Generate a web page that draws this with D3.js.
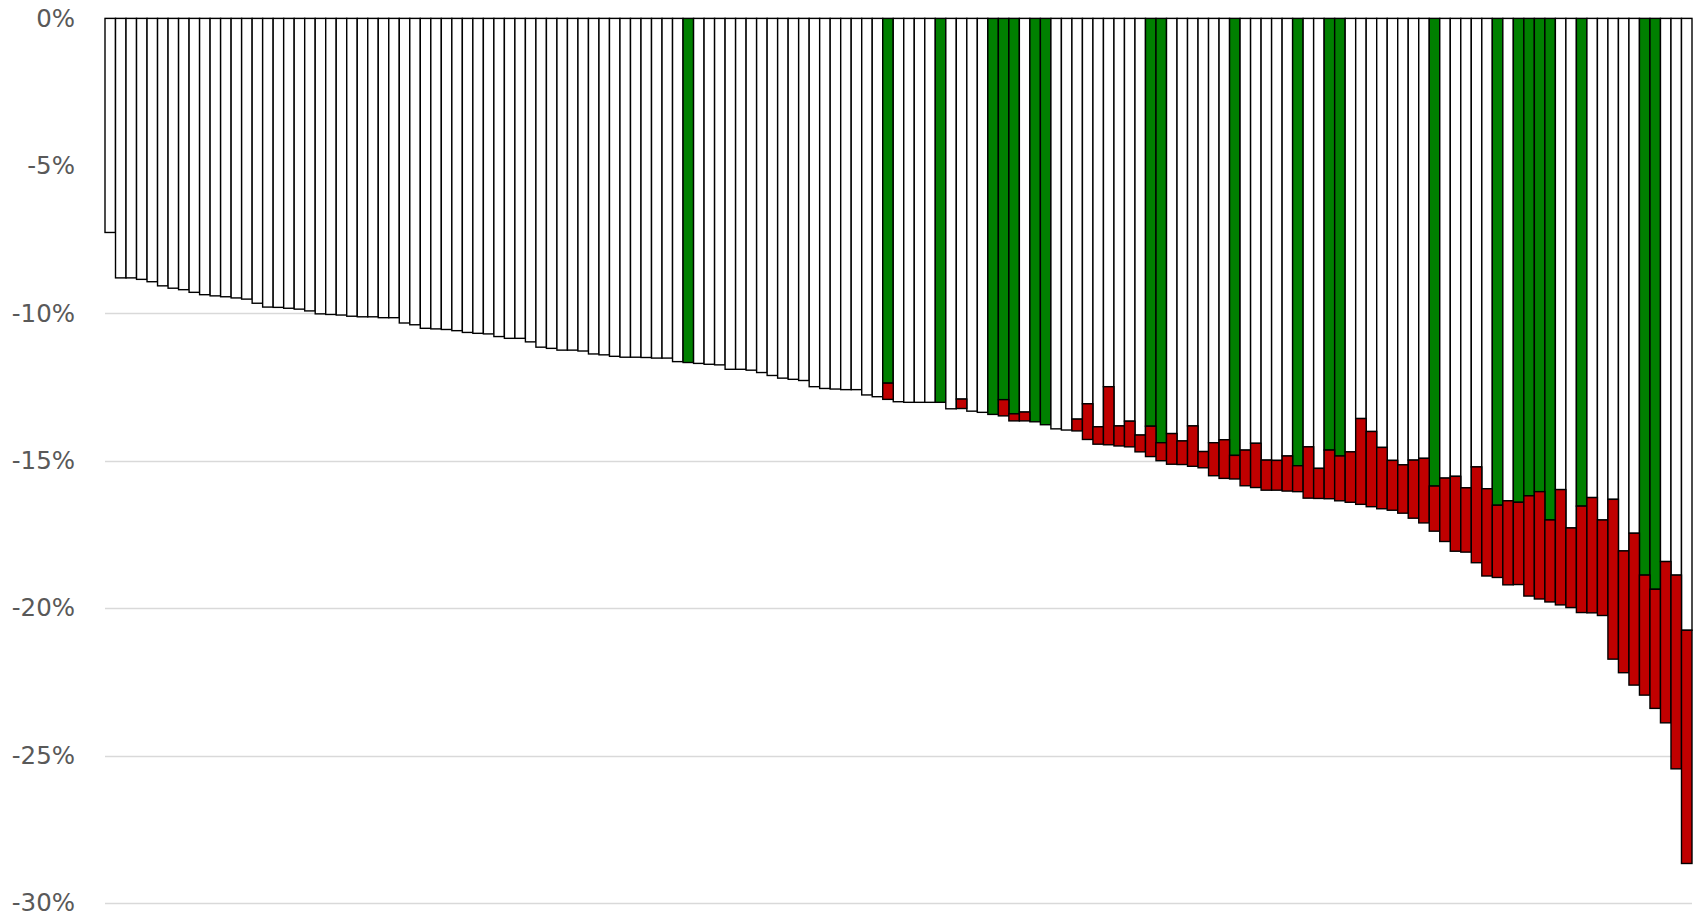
<!DOCTYPE html>
<html>
<head>
<meta charset="utf-8">
<script src="https://cdn.jsdelivr.net/npm/d3@7"></script>
<style>
  html, body { margin: 0; padding: 0; background: #ffffff; }
  svg { display: block; }
</style>
</head>
<body>
<svg id="chart" width="1696" height="917"></svg>
<script>
// Upper (white or green) bar end, in percent
const baseValues = [
  -7.26, -8.80, -8.80, -8.85, -8.93, -9.07, -9.15, -9.20, -9.29, -9.37,
  -9.41, -9.44, -9.48, -9.52, -9.66, -9.79, -9.80, -9.83, -9.86, -9.92,
  -10.02, -10.04, -10.06, -10.10, -10.12, -10.12, -10.15, -10.15, -10.33, -10.39,
  -10.51, -10.53, -10.55, -10.59, -10.65, -10.68, -10.70, -10.79, -10.85, -10.85,
  -10.97, -11.15, -11.19, -11.25, -11.25, -11.28, -11.38, -11.41, -11.46, -11.49,
  -11.49, -11.50, -11.52, -11.52, -11.64, -11.67, -11.70, -11.73, -11.75, -11.90,
  -11.90, -11.93, -12.01, -12.11, -12.20, -12.24, -12.28, -12.49, -12.55, -12.57,
  -12.59, -12.59, -12.77, -12.83, -12.37, -13.00, -13.02, -13.02, -13.02, -13.02,
  -13.24, -12.91, -13.32, -13.36, -13.43, -12.93, -13.41, -13.35, -13.68, -13.78,
  -13.92, -13.96, -13.59, -13.07, -13.85, -12.49, -13.82, -13.66, -14.13, -13.83,
  -14.39, -14.08, -14.33, -13.82, -14.69, -14.39, -14.29, -14.82, -14.64, -14.41,
  -14.98, -14.99, -14.84, -15.17, -14.53, -15.26, -14.64, -14.84, -14.70, -13.57,
  -14.01, -14.55, -14.99, -15.14, -14.98, -14.92, -15.86, -15.59, -15.53, -15.92,
  -15.21, -15.95, -16.51, -16.36, -16.41, -16.19, -16.05, -17.01, -15.98, -17.28,
  -16.54, -16.25, -17.01, -16.31, -18.06, -17.46, -18.88, -19.36, -18.42, -18.88,
  -20.75
];
// Lower (red) bar end, in percent; null where there is no red part
const redValues = [
  null, null, null, null, null, null, null, null, null, null,
  null, null, null, null, null, null, null, null, null, null,
  null, null, null, null, null, null, null, null, null, null,
  null, null, null, null, null, null, null, null, null, null,
  null, null, null, null, null, null, null, null, null, null,
  null, null, null, null, null, null, null, null, null, null,
  null, null, null, null, null, null, null, null, null, null,
  null, null, null, null, -12.92, null, null, null, null, null,
  null, -13.23, null, null, null, -13.48, -13.65, -13.65, null, null,
  null, null, -13.99, -14.28, -14.44, -14.46, -14.50, -14.53, -14.70, -14.86,
  -15.00, -15.12, -15.13, -15.19, -15.24, -15.51, -15.60, -15.62, -15.85, -15.91,
  -16.00, -16.00, -16.03, -16.05, -16.27, -16.28, -16.29, -16.36, -16.41, -16.48,
  -16.56, -16.63, -16.68, -16.78, -16.95, -17.11, -17.39, -17.74, -18.07, -18.10,
  -18.46, -18.91, -18.96, -19.21, -19.20, -19.59, -19.69, -19.79, -19.89, -19.98,
  -20.15, -20.16, -20.25, -21.73, -22.19, -22.61, -22.95, -23.40, -23.89, -25.45,
  -28.66
];
// Indices of bars whose upper part is green
const greenIndices = [55, 74, 79, 84, 85, 86, 88, 89, 99, 100, 107, 113, 116, 117, 126, 132, 134, 135, 136, 137, 140, 146, 147];
const yTicks = [0, -5, -10, -15, -20, -25, -30];

const categories = baseValues.map((d, i) => i);
const greenSet = new Set(greenIndices);

const svg = d3.select("#chart");
const x = d3.scaleBand().domain(categories).range([105, 1692]).paddingInner(0).paddingOuter(0);
const y = d3.scaleLinear().domain([0, -30]).range([18.4, 903]);

// gridlines
svg.append("g").selectAll("line").data(yTicks).join("line")
  .attr("x1", 105).attr("x2", 1692)
  .attr("y1", d => Math.round(y(d)) + 0.5).attr("y2", d => Math.round(y(d)) + 0.5)
  .attr("stroke", "#d9d9d9").attr("stroke-width", 1.3);

// axis labels
const yAxis = d3.axisLeft(y).tickValues(yTicks).tickSize(0).tickPadding(0)
  .tickFormat(d => d + "%");
const gAxis = svg.append("g").attr("transform", "translate(75,0)").call(yAxis);
gAxis.select(".domain").remove();
gAxis.selectAll("text")
  .attr("font-family", "DejaVu Sans, sans-serif")
  .attr("font-size", 24.5)
  .attr("fill", "#595959");

// upper bars
svg.append("g").selectAll("rect").data(categories).join("rect")
  .attr("x", i => x(i))
  .attr("y", y(0))
  .attr("width", x.bandwidth())
  .attr("height", i => y(baseValues[i]) - y(0))
  .attr("fill", i => greenSet.has(i) ? "#008000" : "#ffffff")
  .attr("stroke", "#000000").attr("stroke-width", 1.4);

// red lower bars
svg.append("g").selectAll("rect").data(categories.filter(i => redValues[i] !== null)).join("rect")
  .attr("x", i => x(i))
  .attr("y", i => y(baseValues[i]))
  .attr("width", x.bandwidth())
  .attr("height", i => y(redValues[i]) - y(baseValues[i]))
  .attr("fill", "#c00000")
  .attr("stroke", "#000000").attr("stroke-width", 1.4);
</script>
</body>
</html>
